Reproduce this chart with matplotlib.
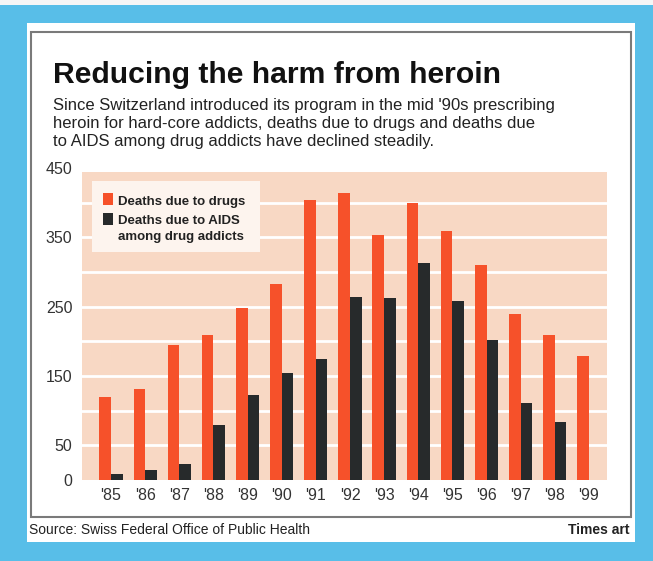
import matplotlib
matplotlib.use('Agg')
import matplotlib.pyplot as plt
from matplotlib.patches import Rectangle
import numpy as np

years = ["'85", "'86", "'87", "'88", "'89", "'90", "'91", "'92", "'93", "'94", "'95", "'96", "'97", "'98", "'99"]
drug_deaths = [119, 131, 194, 209, 248, 282, 404, 414, 354, 399, 359, 310, 239, 209, 179]
aids_deaths = [9, 14, 23, 79, 123, 155, 174, 264, 262, 313, 258, 202, 111, 84, 0]
ytick_vals = [0, 50, 150, 250, 350, 450]
legend_labels = ['Deaths due to drugs', 'Deaths due to AIDS\namong drug addicts']

W, H = 653, 561
fam = ['Liberation Sans', 'DejaVu Sans']
orange = '#f6512a'
dark = '#272a2b'
peach = '#f8d8c4'
blue = '#58bee8'

fig = plt.figure(figsize=(W / 100, H / 100), dpi=100, facecolor=blue)

def fx(px):
    return px / W

def fy(py):
    return 1 - py / H

def px_rect(x0, y0, x1, y1, z=-10, **kw):
    # pixel box (top-left origin) -> figure rectangle
    r = Rectangle((fx(x0), fy(y1)), (x1 - x0) / W, (y1 - y0) / H,
                  transform=fig.transFigure, zorder=z, **kw)
    fig.patches.append(r)

px_rect(0, 0, W, 5, facecolor='#f6f6f6', edgecolor='none')
px_rect(27, 23, 635, 542, facecolor='white', edgecolor='none')
px_rect(31, 32, 631, 517, facecolor='none', edgecolor='#7a7a7a', lw=1.5)

fig.text(fx(53), fy(83), 'Reducing the harm from heroin', family=fam,
         fontweight='bold', fontsize=21.7, va='baseline', ha='left', color='#111111')
fig.text(fx(53), fy(98),
         "Since Switzerland introduced its program in the mid '90s prescribing\n"
         "heroin for hard-core addicts, deaths due to drugs and deaths due\n"
         "to AIDS among drug addicts have declined steadily.",
         family=fam, fontsize=12, va='top', ha='left', color='#222222',
         linespacing=1.24)

# axes: y=0 at px 480, y=450 at px 168
ax = fig.add_axes([fx(82), fy(480), (607 - 82) / W, (480 - 168) / H])
ax.set_facecolor('none')
x = np.arange(len(years))
ax.set_xlim(-0.85, 14.53)
ax.set_ylim(0, 450)
ax.axhspan(0, 444, color=peach, zorder=0, lw=0)
for g in range(50, 450, 50):
    ax.axhline(g, color='white', lw=2, zorder=1)

bw = 0.34
ax.bar(x - bw / 2, drug_deaths, width=bw, color=orange, zorder=2, lw=0)
ax.bar(x + bw / 2, aids_deaths, width=bw, color=dark, zorder=2, lw=0)

ax.set_xticks(x)
ax.set_xticklabels(years, family=fam, fontsize=11.5, color='#333333')
ax.set_yticks(ytick_vals)
ax.set_yticklabels([str(v) for v in ytick_vals], family=fam, fontsize=11.5, color='#333333')
ax.tick_params(length=0)
ax.tick_params(axis='x', pad=6)
ax.tick_params(axis='y', pad=7)
for s in ax.spines.values():
    s.set_visible(False)

# legend box drawn by hand so the squares sit on the first text line
px_rect(92, 181, 260, 252, z=5, facecolor='#fdf4ee', edgecolor='none')
px_rect(103, 193, 113, 205, z=6, facecolor=orange, edgecolor='none')
px_rect(103, 213, 113, 225, z=6, facecolor=dark, edgecolor='none')
fig.text(fx(118), fy(205), legend_labels[0], family=fam, fontweight='bold',
         fontsize=9.5, va='baseline', ha='left', color='#222222', zorder=7)
fig.text(fx(118), fy(224), legend_labels[1].split('\n')[0], family=fam, fontweight='bold',
         fontsize=9.5, va='baseline', ha='left', color='#222222', zorder=7)
fig.text(fx(118), fy(240), legend_labels[1].split('\n')[1], family=fam, fontweight='bold',
         fontsize=9.5, va='baseline', ha='left', color='#222222', zorder=7)

fig.text(fx(29), fy(530), 'Source: Swiss Federal Office of Public Health',
         family=fam, fontsize=10, va='center', ha='left', color='#222222')
fig.text(fx(630), fy(530), 'Times art', family=fam, fontweight='bold',
         fontsize=10, va='center', ha='right', color='#222222')

fig.savefig('out.png', dpi=100, facecolor=blue)
